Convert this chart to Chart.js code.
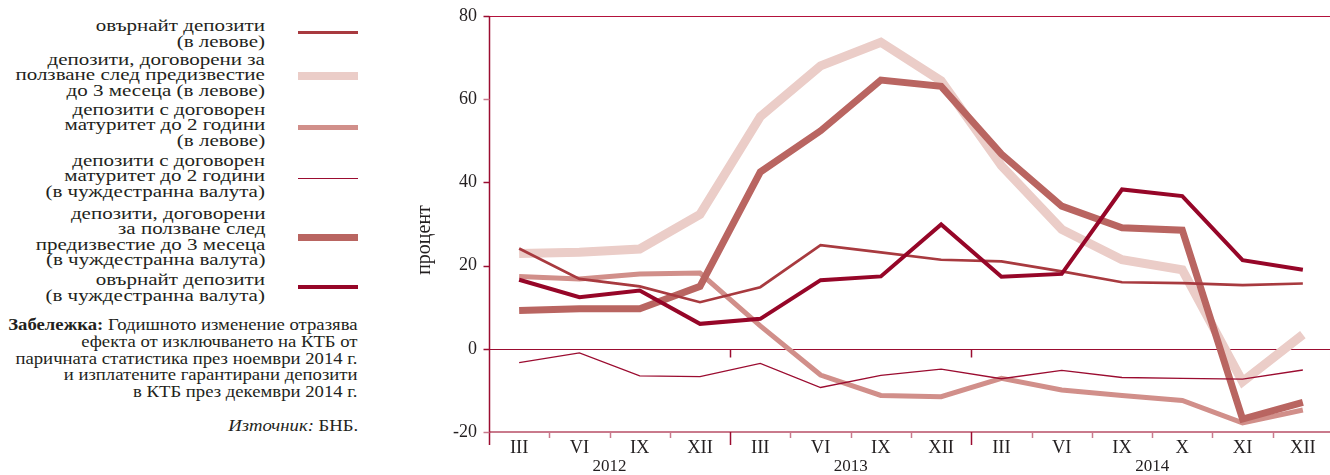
<!DOCTYPE html>
<html lang="bg">
<head>
<meta charset="utf-8">
<script src="https://cdn.jsdelivr.net/npm/chart.js@4.4.1/dist/chart.umd.min.js"></script>
<style>
  html, body { margin: 0; padding: 0; background: #fff; }
  body {
    width: 1330px; height: 475px; position: relative; overflow: hidden;
    font-family: "Liberation Serif", "Times New Roman", serif; color: #231f20;
  }
  .lg {
    position: absolute; right: 1065px; text-align: right; font-size: 17.5px; line-height: 16px;
    white-space: nowrap; transform: scaleX(1.2); transform-origin: right top;
  }
  .lg.t { line-height: 15.4px; }
  .sw { position: absolute; left: 298px; width: 60px; }
  .note {
    position: absolute; right: 972px; text-align: right; font-size: 17px; line-height: 16.8px;
    white-space: nowrap; transform: scaleX(1.1); transform-origin: right top;
  }
  #wrap { position: absolute; left: 400px; top: 0; width: 933px; height: 475px; }
</style>
</head>
<body>
  <!-- legend (left column) -->
  <div class="lg" style="top:17px">овърнайт депозити<br>(в левове)</div>
  <div class="sw" style="top:30.5px;height:3px;background:#a83a3f"></div>

  <div class="lg t" style="top:52px">депозити, договорени за<br>ползване след предизвестие<br>до 3 месеца (в левове)</div>
  <div class="sw" style="top:72px;height:8px;background:#ebcdc8"></div>

  <div class="lg t" style="top:102px">депозити с договорен<br>матуритет до 2 години<br>(в левове)</div>
  <div class="sw" style="top:124.5px;height:5px;background:#d18f8a"></div>

  <div class="lg t" style="top:153px">депозити с договорен<br>матуритет до 2 години<br>(в чуждестранна валута)</div>
  <div class="sw" style="top:177.5px;height:1px;background:#9b0c30"></div>

  <div class="lg t" style="top:206px">депозити, договорени<br>за ползване след<br>предизвестие до 3 месеца<br>(в чуждестранна валута)</div>
  <div class="sw" style="top:233.5px;height:7px;background:#b96561"></div>

  <div class="lg" style="top:271px">овърнайт депозити<br>(в чуждестранна валута)</div>
  <div class="sw" style="top:285px;height:4px;background:#960628"></div>

  <div class="note" style="top:317px"><b>Забележка:</b> Годишното изменение отразява<br>ефекта от изключването на КТБ от<br>паричната статистика през ноември 2014 г.<br>и изплатените гарантирани депозити<br>в КТБ през декември 2014 г.</div>
  <div class="note" style="top:418px"><i>Източник:</i> БНБ.</div>

  <div id="wrap"><canvas id="chart"></canvas></div>

<script>
  // categories: quarter-end months, 2012 – 2014 (monthly at the end of 2014)
  const CATEGORIES = ['III', 'VI', 'IX', 'XII', 'III', 'VI', 'IX', 'XII', 'III', 'VI', 'IX', 'X', 'XI', 'XII'];
  const YEARS = ['2012', '2013', '2014'];
  const YEAR_FIRST = [0, 4, 8];
  const YEAR_LAST = [3, 7, 13];
  const Y_MIN = -20;
  const Y_MAX = 80;
  const Y_STEP = 20;

  // annual change, %
  const overnightBgn   = [24.1, 16.8, 15.0, 11.2, 14.8, 24.9, 23.2, 21.4, 21.0, 18.6, 16.0, 15.8, 15.3, 15.7];
  const noticeBgn      = [22.9, 23.2, 24.0, 32.3, 55.8, 68.0, 73.7, 64.4, 44.0, 28.7, 21.4, 19.0, -7.9, 3.4];
  const maturityBgn    = [17.4, 16.8, 18.0, 18.2, 5.5, -6.3, -11.2, -11.5, -7.1, -9.9, -11.2, -12.4, -17.8, -14.7];
  const maturityFx     = [-3.3, -1.0, -6.5, -6.7, -3.5, -9.3, -6.4, -4.9, -7.2, -5.2, -6.9, -7.1, -7.3, -5.1];
  const noticeFx       = [9.2, 9.6, 9.6, 15.0, 42.5, 52.4, 64.6, 63.1, 46.8, 34.3, 29.1, 28.5, -16.9, -12.9];
  const overnightFx    = [16.6, 12.4, 14.0, 6.0, 7.2, 16.5, 17.4, 29.9, 17.3, 18.0, 38.3, 36.7, 21.3, 19.0];

  const SERIES_NAMES = [
    'овърнайт депозити (в левове)',
    'депозити, договорени за ползване след предизвестие до 3 месеца (в левове)',
    'депозити с договорен матуритет до 2 години (в левове)',
    'депозити с договорен матуритет до 2 години (в чуждестранна валута)',
    'депозити, договорени за ползване след предизвестие до 3 месеца (в чуждестранна валута)',
    'овърнайт депозити (в чуждестранна валута)'
  ];

  const AXIS_DARK = '#9b0c30';
  const AXIS_PINK = '#c97a8c';
  const FONT = '"Liberation Serif", "Times New Roman", serif';

  const line = (label, data, color, width, order) => ({
    label, data, borderColor: color, backgroundColor: color, borderWidth: width,
    pointRadius: 0, pointHoverRadius: 0, tension: 0, fill: false,
    borderJoinStyle: 'miter', borderCapStyle: 'butt', order
  });

  // axis lines, ticks, zero line and year labels drawn by hand
  const frame = {
    id: 'frame',
    beforeDatasetsDraw(chart) {
      const { ctx, chartArea: a, scales: { x, y } } = chart;
      const yTop = Math.round(y.getPixelForValue(Y_MAX)) + 0.5;
      const yZero = Math.round(y.getPixelForValue(0)) + 0.5;
      const yBot = Math.round(y.getPixelForValue(Y_MIN));
      const xLeft = Math.round(a.left) + 0.5;
      const half = (x.getPixelForValue(1) - x.getPixelForValue(0)) / 2;
      ctx.save();

      // top border
      ctx.strokeStyle = '#b3123c'; ctx.lineWidth = 1;
      ctx.beginPath(); ctx.moveTo(a.left, yTop); ctx.lineTo(a.right, yTop); ctx.stroke();
      // zero line
      ctx.strokeStyle = AXIS_DARK;
      ctx.beginPath(); ctx.moveTo(a.left, yZero); ctx.lineTo(a.right, yZero); ctx.stroke();
      // bottom (−20) line
      ctx.strokeStyle = AXIS_PINK; ctx.lineWidth = 2;
      ctx.beginPath(); ctx.moveTo(a.left, yBot); ctx.lineTo(a.right, yBot); ctx.stroke();

      // category ticks below the −20 line, year separators longer
      ctx.lineWidth = 1.5;
      for (let i = 1; i < CATEGORIES.length; i++) {
        const px = Math.round(x.getPixelForValue(i) - half) + 0.5;
        const isYear = YEAR_FIRST.includes(i);
        ctx.strokeStyle = isYear ? AXIS_DARK : AXIS_PINK;
        ctx.beginPath(); ctx.moveTo(px, yBot); ctx.lineTo(px, yBot + (isYear ? 13 : 6)); ctx.stroke();
        if (isYear) {
          ctx.beginPath(); ctx.moveTo(px, yZero); ctx.lineTo(px, yZero + 8); ctx.stroke();
        }
      }

      // left axis with outward ticks
      ctx.strokeStyle = AXIS_DARK; ctx.lineWidth = 1.5;
      ctx.beginPath(); ctx.moveTo(xLeft, yTop); ctx.lineTo(xLeft, yBot + 13); ctx.stroke();
      for (let v = Y_MIN; v <= Y_MAX; v += Y_STEP) {
        const py = Math.round(y.getPixelForValue(v)) + 0.5;
        ctx.strokeStyle = v === 60 || v === Y_MIN ? AXIS_PINK : AXIS_DARK;
        ctx.beginPath(); ctx.moveTo(xLeft - 6, py); ctx.lineTo(xLeft, py); ctx.stroke();
      }

      // axis title
      ctx.fillStyle = '#231f20';
      ctx.textAlign = 'center'; ctx.textBaseline = 'middle';
      ctx.save();
      ctx.font = '20px ' + FONT;
      ctx.translate(25, 240); ctx.rotate(-Math.PI / 2);
      ctx.fillText('процент', 0, 0);
      ctx.restore();

      // year labels, centred under each group
      ctx.font = '17px ' + FONT;
      YEARS.forEach((yr, k) => {
        const cx = (x.getPixelForValue(YEAR_FIRST[k]) + x.getPixelForValue(YEAR_LAST[k])) / 2;
        ctx.fillText(yr, cx, 467);
      });
      ctx.restore();
    }
  };

  new Chart(document.getElementById('chart'), {
    type: 'line',
    data: {
      labels: CATEGORIES,
      datasets: [
        line(SERIES_NAMES[0], overnightBgn, '#a83a3f', 2.7, 2),
        line(SERIES_NAMES[1], noticeBgn,    '#ebcdc8', 9,   6),
        line(SERIES_NAMES[2], maturityBgn,  '#d18f8a', 5,   5),
        line(SERIES_NAMES[3], maturityFx,   '#9b0c30', 1.3, 3),
        line(SERIES_NAMES[4], noticeFx,     '#b96561', 7,   4),
        line(SERIES_NAMES[5], overnightFx,  '#960628', 4,   1)
      ]
    },
    options: {
      responsive: true,
      maintainAspectRatio: false,
      animation: false,
      events: [],
      layout: { padding: { top: 16, right: 0, left: 0, bottom: 0 } },
      plugins: { legend: { display: false }, tooltip: { enabled: false }, title: { display: false } },
      scales: {
        x: {
          offset: true,
          grid: { display: false, drawTicks: false },
          border: { display: false },
          ticks: { color: '#231f20', font: { family: FONT, size: 18.5 }, padding: 5, maxRotation: 0, autoSkip: false },
          afterFit: s => { s.height = 43; s.paddingLeft = 0; s.paddingRight = 0; }
        },
        y: {
          min: Y_MIN, max: Y_MAX,
          grid: { display: false, drawTicks: false },
          border: { display: false },
          ticks: { stepSize: Y_STEP, color: '#231f20', font: { family: FONT, size: 18 }, padding: 12,
                   callback: v => String(v) },
          afterFit: s => { s.width = 89; s.paddingTop = 0; s.paddingBottom = 0; }
        }
      }
    },
    plugins: [frame]
  });
</script>
</body>
</html>
